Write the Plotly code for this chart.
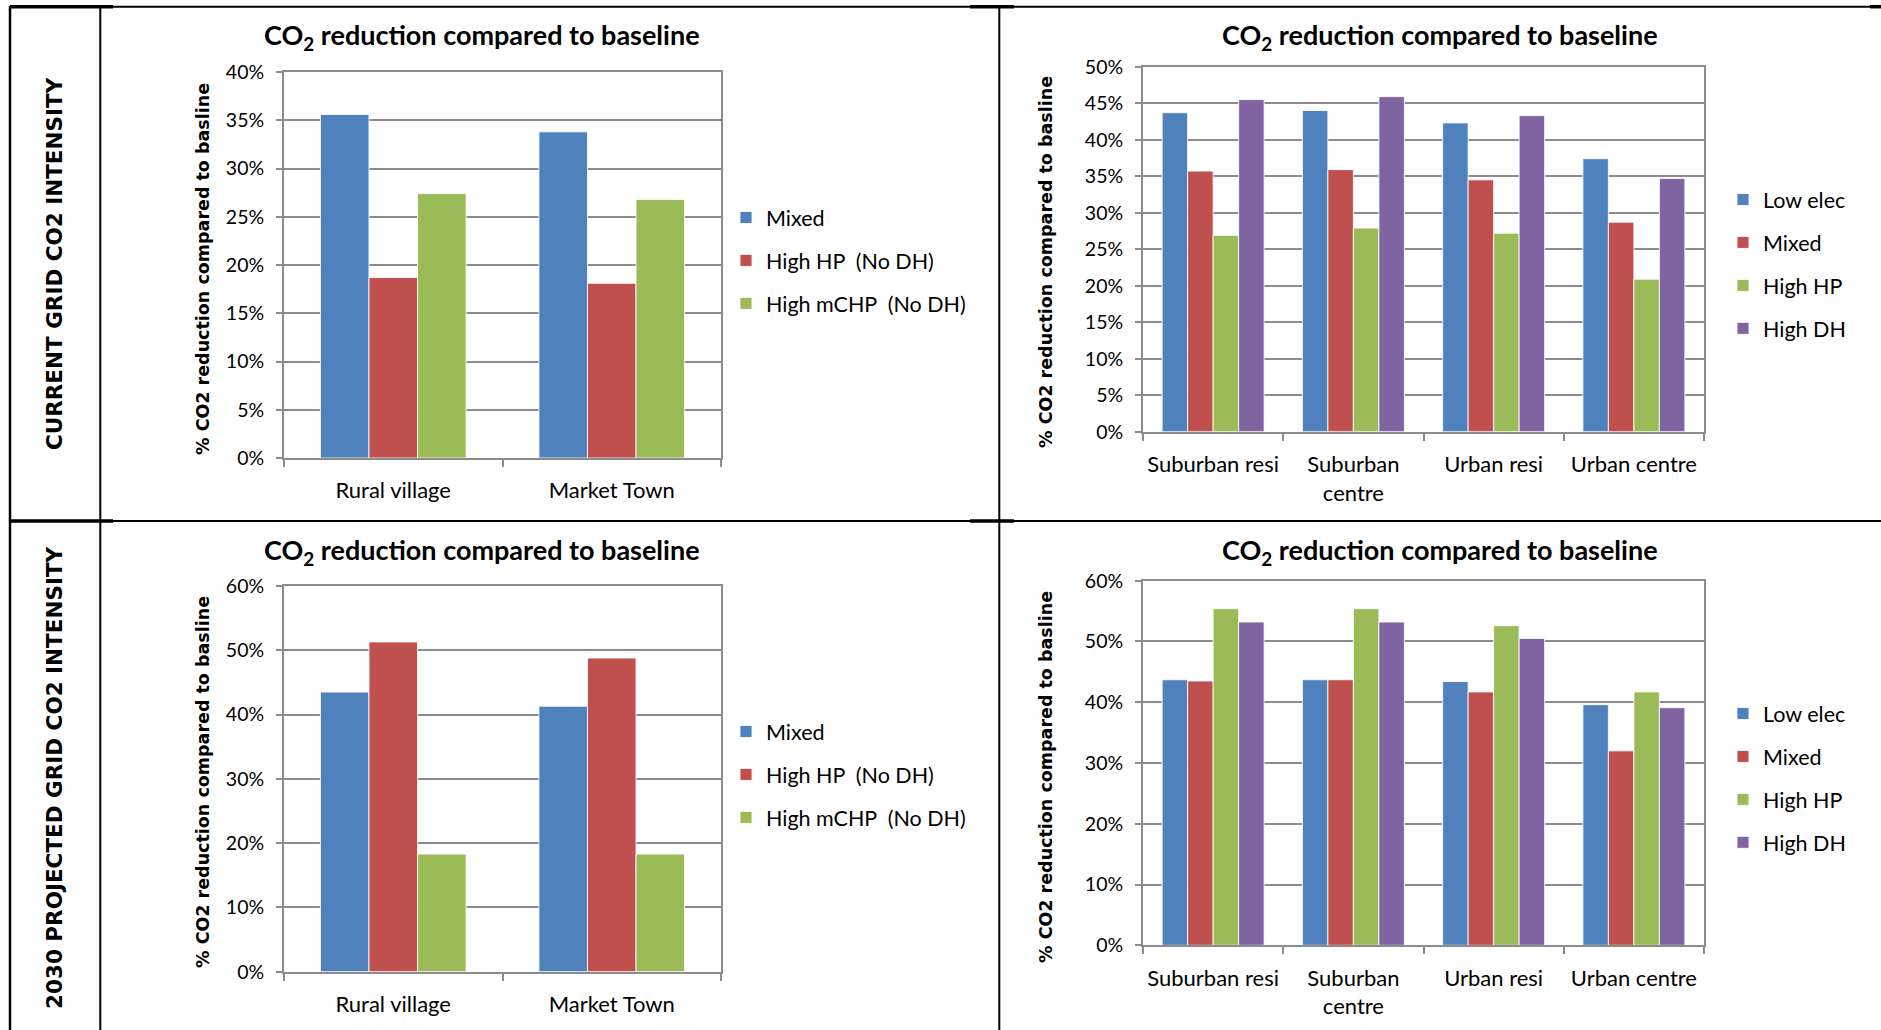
import plotly.graph_objects as go

W, H = 1881, 1030

# ---- data -------------------------------------------------------------
rural_categories = ["Rural village", "Market Town"]
rural_series = ["Mixed", "High HP\u00a0 (No DH)", "High mCHP\u00a0 (No DH)"]

rural_current_mixed = [35.6, 33.8]
rural_current_high_hp = [18.7, 18.1]
rural_current_high_mchp = [27.4, 26.8]

rural_2030_mixed = [43.5, 41.3]
rural_2030_high_hp = [51.3, 48.8]
rural_2030_high_mchp = [18.3, 18.3]

urban_categories = ["Suburban resi", "Suburban centre", "Urban resi", "Urban centre"]
urban_ticklabels = ["Suburban resi", "Suburban<br>centre", "Urban resi", "Urban centre"]
urban_series = ["Low elec", "Mixed", "High HP", "High DH"]

urban_current_low_elec = [43.7, 44.0, 42.3, 37.4]
urban_current_mixed = [35.7, 35.9, 34.5, 28.7]
urban_current_high_hp = [26.9, 27.9, 27.2, 20.9]
urban_current_high_dh = [45.5, 45.9, 43.3, 34.7]

urban_2030_low_elec = [43.7, 43.7, 43.4, 39.6]
urban_2030_mixed = [43.5, 43.7, 41.7, 32.0]
urban_2030_high_hp = [55.4, 55.4, 52.6, 41.7]
urban_2030_high_dh = [53.2, 53.2, 50.5, 39.1]

row_labels = ["CURRENT GRID CO2 INTENSITY", "2030 PROJECTED GRID CO2 INTENSITY"]
chart_title = "<b>CO<sub>2</sub> reduction compared to baseline</b>"
y_title = "<b>% CO2 reduction compared to basline</b>"

# ---- styling ----------------------------------------------------------
BLUE, RED, GREEN, PURPLE = "#4F81BD", "#C0504D", "#9BBB59", "#8064A2"
GRID = "#8c8c8c"
LABEL_FONT = "Lato, 'Open Sans', sans-serif"
BOLD_FONT = "'DejaVu Sans', Verdana, sans-serif"


def fx(px):
    return px / W


def fy(py):
    return 1 - py / H


fig = go.Figure()


def add_panel(idx, categories, ticklabels, names, values, colors, ymax, dtick,
              xdom, ydom, legend_pos, title_xy, ytitle_xy):
    suffix = "" if idx == 1 else str(idx)
    n = len(names)
    gap = 1.5  # gap between groups, in bar widths
    w = 1.0 / (n + gap)
    legend_name = "legend" + suffix
    for k, (name, vals, col) in enumerate(zip(names, values, colors)):
        fig.add_trace(go.Bar(
            x=categories, y=vals, name=name,
            marker=dict(color=col, line=dict(color="rgba(255,255,255,0.85)", width=1)),
            width=w, offset=(k - n / 2) * w,
            xaxis="x" + suffix, yaxis="y" + suffix,
            legend=legend_name, legendgroup=f"{idx}-{k}",
        ))
    fig.layout["xaxis" + suffix] = dict(
        domain=[fx(xdom[0]), fx(xdom[1])], anchor="y" + suffix,
        type="category", tickvals=categories, ticktext=ticklabels, tickangle=0,
        showline=True, mirror=True, linecolor=GRID, linewidth=2,
        ticks="outside", tickson="boundaries", ticklen=7, tickwidth=2, tickcolor=GRID,
        tickfont=dict(family=LABEL_FONT, size=22, color="black"),
        ticklabelstandoff=12, showgrid=False, fixedrange=True, automargin=False,
    )
    fig.layout["yaxis" + suffix] = dict(
        domain=[fy(ydom[1]), fy(ydom[0])], anchor="x" + suffix,
        range=[0, ymax], dtick=dtick, ticksuffix="%",
        showline=True, mirror=True, linecolor=GRID, linewidth=2,
        showgrid=True, gridcolor=GRID, gridwidth=2, zeroline=False,
        ticks="outside", ticklen=6, tickwidth=2, tickcolor=GRID,
        tickfont=dict(family=LABEL_FONT, size=19.5, color="black"),
        ticklabelstandoff=8, fixedrange=True, automargin=False,
    )
    fig.layout[legend_name] = dict(
        x=fx(legend_pos[0]), y=fy(legend_pos[1]), xanchor="left", yanchor="top",
        font=dict(family=LABEL_FONT, size=21.5, color="black"),
        bgcolor="rgba(0,0,0,0)", tracegroupgap=12, traceorder="grouped",
    )
    # chart heading
    fig.add_annotation(
        x=fx(title_xy[0]), y=fy(title_xy[1]), xref="paper", yref="paper",
        showarrow=False, text=chart_title,
        font=dict(family=LABEL_FONT, size=27, color="black"),
        xanchor="center", yanchor="middle",
    )
    # vertical value-axis caption
    fig.add_annotation(
        x=fx(ytitle_xy[0]), y=fy(ytitle_xy[1]), xref="paper", yref="paper",
        showarrow=False, text=y_title, textangle=-90,
        font=dict(family=BOLD_FONT, size=17.5, color="black"),
        xanchor="center", yanchor="middle",
    )


add_panel(1, rural_categories, rural_categories, rural_series,
          [rural_current_mixed, rural_current_high_hp, rural_current_high_mchp],
          [BLUE, RED, GREEN], 40, 5, (284, 721), (72, 458), (726, 197), (482, 37), (203, 269))
add_panel(2, urban_categories, urban_ticklabels, urban_series,
          [urban_current_low_elec, urban_current_mixed, urban_current_high_hp, urban_current_high_dh],
          [BLUE, RED, GREEN, PURPLE], 50, 5, (1143, 1704), (66.7, 431.7), (1723, 179), (1440, 37),
          (1046, 262))
add_panel(3, rural_categories, rural_categories, rural_series,
          [rural_2030_mixed, rural_2030_high_hp, rural_2030_high_mchp],
          [BLUE, RED, GREEN], 60, 10, (284, 721), (586, 971.7), (726, 711), (482, 551), (203, 782))
add_panel(4, urban_categories, urban_ticklabels, urban_series,
          [urban_2030_low_elec, urban_2030_mixed, urban_2030_high_hp, urban_2030_high_dh],
          [BLUE, RED, GREEN, PURPLE], 60, 10, (1143, 1704), (580.7, 945.3), (1723, 693), (1440, 551),
          (1046, 777))

# row headings in the left column
for label, cy in zip(row_labels, (264, 778)):
    fig.add_annotation(
        x=fx(54), y=fy(cy), xref="paper", yref="paper", showarrow=False,
        text=f"<b>{label}</b>", textangle=-90,
        font=dict(family=BOLD_FONT, size=21.5, color="black"),
        xanchor="center", yanchor="middle",
    )

# table rules
rules = [
    (10, 6.7, W, 6.7, 2),
    (10, 521, W, 521, 2),
    (10, 6, 10, H, 2.5),
    (100.3, 6, 100.3, H, 2),
    (999.3, 6, 999.3, H, 2),
    (10, 6.7, 113, 6.7, 3.5),
    (970, 6.7, 1014, 6.7, 3.5),
    (1870, 6.7, W, 6.7, 3.5),
    (10, 521, 113, 521, 3.5),
    (970, 521, 1014, 521, 3.5),
]
for x0, y0, x1, y1, lw in rules:
    fig.add_shape(type="line", xref="paper", yref="paper",
                  x0=fx(x0), y0=fy(y0), x1=fx(x1), y1=fy(y1),
                  line=dict(color="black", width=lw))

fig.update_layout(
    width=W, height=H, margin=dict(l=0, r=0, t=0, b=0, autoexpand=False),
    paper_bgcolor="white", plot_bgcolor="white",
    barmode="overlay", showlegend=True,
)

fig.write_html("out.html", config={"displayModeBar": False})
